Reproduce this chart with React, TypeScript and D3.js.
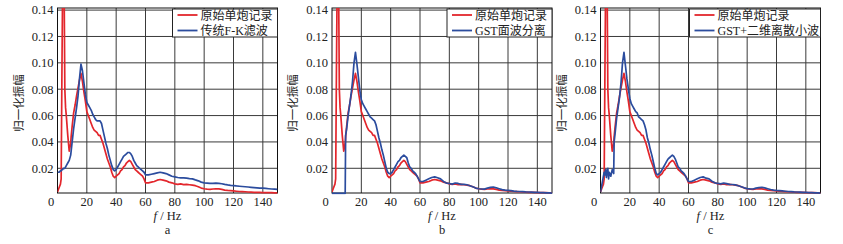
import React from "react";
import * as d3 from "d3";

// shared frequency grid (Hz)
const freqs: number[] = [
  0, 1, 2, 2.5, 3, 3.5, 4, 4.5, 5, 5.5, 6, 7, 8, 9, 9.3,
  10, 11, 12, 13, 14, 15, 16, 17, 18, 19, 20, 21, 22, 23, 24, 25, 26, 27, 28, 29,
  30, 31, 32, 33, 34, 35, 36, 37, 38, 39, 40, 41, 42, 43, 44, 45, 46, 47, 48, 49,
  50, 51, 52, 53, 54, 55, 56, 57, 58, 59, 60,
  62, 64, 66, 68, 70, 72, 74, 76, 78, 80, 82, 84, 86, 88, 90, 92, 94, 96, 98, 100,
  102, 104, 106, 108, 110, 112, 114, 116, 118, 120, 122, 124, 126, 128, 130,
  132, 134, 136, 138, 140, 142, 144, 146, 148, 150,
];

// 原始单炮记录 (raw shot record)
const rawValues: number[] = [
  0.002, 0.005, 0.008, 0.012, 0.09, 0.16, 0.17, 0.16, 0.08, 0.066, 0.06, 0.045, 0.033, 0.039, 0.044,
  0.052, 0.062, 0.068, 0.075, 0.081, 0.087, 0.092, 0.086, 0.078, 0.071, 0.063, 0.06, 0.057, 0.054, 0.051, 0.049, 0.048, 0.047, 0.045, 0.045,
  0.042, 0.039, 0.035, 0.031, 0.027, 0.024, 0.021, 0.017, 0.014, 0.013, 0.014, 0.015, 0.016, 0.018, 0.019, 0.021, 0.022, 0.024, 0.025, 0.026,
  0.025, 0.023, 0.021, 0.019, 0.018, 0.017, 0.016, 0.015, 0.014, 0.012, 0.009,
  0.009, 0.0095, 0.01, 0.011, 0.0115, 0.011, 0.0105, 0.0095, 0.009, 0.0082, 0.0078, 0.0082, 0.0076, 0.0078, 0.0075, 0.0072, 0.0068, 0.006, 0.005, 0.0045,
  0.0042, 0.004, 0.0043, 0.0045, 0.0044, 0.004, 0.0035, 0.0032, 0.003, 0.0028, 0.0026, 0.0024, 0.0023, 0.0022, 0.002,
  0.0019, 0.0018, 0.0018, 0.0017, 0.0016, 0.0016, 0.0015, 0.0015, 0.0014, 0.0014,
];

// 传统F-K滤波
const fkValues: number[] = [
  0.017, 0.017, 0.018, 0.018, 0.019, 0.019, 0.02, 0.02, 0.02, 0.021, 0.022, 0.024, 0.026, 0.03, 0.033,
  0.04, 0.05, 0.058, 0.066, 0.075, 0.088, 0.099, 0.094, 0.085, 0.076, 0.07, 0.068, 0.066, 0.064, 0.061, 0.059, 0.057, 0.056, 0.056, 0.056,
  0.054, 0.049, 0.044, 0.039, 0.035, 0.03, 0.026, 0.022, 0.019, 0.018, 0.019, 0.021, 0.023, 0.025, 0.027, 0.029, 0.03, 0.031, 0.032, 0.032,
  0.031, 0.029, 0.026, 0.024, 0.022, 0.021, 0.02, 0.019, 0.018, 0.017, 0.015,
  0.015, 0.0155, 0.016, 0.0165, 0.017, 0.0165, 0.016, 0.015, 0.014, 0.0135, 0.013, 0.0128, 0.0128, 0.0125, 0.0122, 0.012, 0.0112, 0.0105, 0.0095, 0.009,
  0.0088, 0.0085, 0.0085, 0.0088, 0.0086, 0.0083, 0.0078, 0.0074, 0.0071, 0.0069, 0.0066, 0.0064, 0.0062, 0.006, 0.0058,
  0.0056, 0.0054, 0.0052, 0.005, 0.0049, 0.0047, 0.0045, 0.0043, 0.0042, 0.004,
];

// GST面波分离
const gstValues: number[] = [
  0.001, 0.001, 0.001, 0.001, 0.001, 0.001, 0.001, 0.001, 0.001, 0.001, 0.001, 0.001, 0.001, 0.001, 0.045,
  0.05, 0.06, 0.068, 0.076, 0.086, 0.1, 0.108, 0.099, 0.089, 0.079, 0.072, 0.069, 0.067, 0.065, 0.063, 0.061, 0.059, 0.058, 0.057, 0.056,
  0.053, 0.048, 0.043, 0.039, 0.034, 0.03, 0.025, 0.02, 0.017, 0.016, 0.016, 0.017, 0.019, 0.021, 0.023, 0.025, 0.026, 0.028, 0.029, 0.03,
  0.029, 0.028, 0.024, 0.021, 0.02, 0.018, 0.017, 0.016, 0.014, 0.012, 0.01,
  0.01, 0.011, 0.012, 0.013, 0.0135, 0.0128, 0.012, 0.01, 0.0088, 0.0085, 0.008, 0.0088, 0.0085, 0.0078, 0.0078, 0.0075, 0.0068, 0.006, 0.005, 0.0045,
  0.0043, 0.0042, 0.005, 0.0055, 0.0058, 0.0052, 0.0045, 0.0038, 0.0034, 0.0032, 0.003, 0.0027, 0.0025, 0.0024, 0.0023,
  0.0021, 0.002, 0.0019, 0.0018, 0.0017, 0.0016, 0.0015, 0.0014, 0.0013, 0.0012,
];

// GST+二维离散小波
const gstDwtValues: number[] = [
  0.002, 0.008, 0.014, 0.017, 0.015, 0.019, 0.013, 0.018, 0.02, 0.012, 0.017, 0.014, 0.019, 0.016, 0.04,
  0.047, 0.058, 0.066, 0.074, 0.085, 0.1, 0.108, 0.098, 0.088, 0.08, 0.073, 0.069, 0.067, 0.065, 0.063, 0.062, 0.059, 0.058, 0.057, 0.056,
  0.053, 0.049, 0.043, 0.039, 0.034, 0.03, 0.025, 0.02, 0.016, 0.015, 0.016, 0.017, 0.019, 0.021, 0.023, 0.025, 0.027, 0.028, 0.029, 0.03,
  0.029, 0.027, 0.024, 0.021, 0.02, 0.018, 0.017, 0.016, 0.014, 0.012, 0.01,
  0.01, 0.011, 0.012, 0.013, 0.0135, 0.0125, 0.012, 0.0102, 0.009, 0.0085, 0.0082, 0.0088, 0.0084, 0.0078, 0.0077, 0.0074, 0.0068, 0.006, 0.0052, 0.0046,
  0.0044, 0.0043, 0.005, 0.0054, 0.0056, 0.0051, 0.0045, 0.0039, 0.0035, 0.0032, 0.003, 0.0028, 0.0026, 0.0024, 0.0023,
  0.0021, 0.002, 0.0019, 0.0018, 0.0017, 0.0016, 0.0015, 0.0014, 0.0013, 0.0012,
];

const xTicks: number[] = [0, 20, 40, 60, 80, 100, 120, 140];
const yTicks: number[] = [0.02, 0.04, 0.06, 0.08, 0.1, 0.12, 0.14];
const rawName = "原始单炮记录";
const seriesNames: string[] = ["传统F-K滤波", "GST面波分离", "GST+二维离散小波"];
const panelLetters: string[] = ["a", "b", "c"];
const filteredSeries: number[][] = [fkValues, gstValues, gstDwtValues];

const RED = "#e3262c";
const BLUE = "#2b4c9e";
const SERIF = "'Liberation Serif', 'Times New Roman', serif";
const CJK = "'Liberation Serif', 'Noto Sans CJK SC', serif";

const TOP = 8;
const BOTTOM = 193;
const Y_MIN = 0.00126;
const Y_MAX = 0.1416;

type PanelProps = {
  left: number;
  width: number;
  legendWidth: number;
  values: number[];
  name: string;
  letter: string;
  idx: number;
};

function Panel({ left, width, legendWidth, values, name, letter, idx }: PanelProps) {
  const x = d3.scaleLinear().domain([0, 150]).range([left, left + width]);
  const y = d3.scaleLinear().domain([Y_MIN, Y_MAX]).range([BOTTOM, TOP]);
  const line = d3
    .line<number>()
    .x((_, i) => x(freqs[i]))
    .y((v) => y(v));
  const clipId = `clip-${idx}`;
  const right = left + width;
  const lgX = right - legendWidth;
  const lgY = TOP + 1;
  return (
    <g>
      <defs>
        <clipPath id={clipId}>
          <rect x={left} y={TOP} width={width} height={BOTTOM - TOP + 1.5} />
        </clipPath>
      </defs>
      <rect x={left} y={TOP} width={width} height={BOTTOM - TOP} fill="#fff" />
      {xTicks
        .filter((t) => t > 0)
        .map((t) => (
          <line key={"gx" + t} x1={x(t)} x2={x(t)} y1={TOP} y2={BOTTOM} stroke="#3a3a3a" strokeWidth={1} />
        ))}
      {yTicks.map((t) => (
        <line key={"gy" + t} x1={left} x2={right} y1={y(t)} y2={y(t)} stroke="#3a3a3a" strokeWidth={1} />
      ))}
      <rect x={left} y={TOP} width={width} height={BOTTOM - TOP} fill="none" stroke="#111" strokeWidth={1} />
      <g clipPath={`url(#${clipId})`}>
        <path d={line(rawValues) || ""} fill="none" stroke={RED} strokeWidth={1.7} strokeLinejoin="round" />
        <path d={line(values) || ""} fill="none" stroke={BLUE} strokeWidth={1.7} strokeLinejoin="round" />
      </g>
      {xTicks.map((t) => (
        <text
          key={"tx" + t}
          x={x(t) + (t === 0 ? -6.5 : 0)}
          y={206}
          textAnchor="middle"
          fontFamily={SERIF}
          fontSize={12.5}
          fill="#222"
        >
          {t}
        </text>
      ))}
      {yTicks.map((t) => (
        <text
          key={"ty" + t}
          x={left - 4}
          y={y(t) + 4.3}
          textAnchor="end"
          fontFamily={SERIF}
          fontSize={12.5}
          fill="#222"
        >
          {t.toFixed(2)}
        </text>
      ))}
      <text
        transform={`translate(${left - 35},${103}) rotate(-90)`}
        textAnchor="middle"
        fontFamily={CJK}
        fontSize={11.5}
        fill="#222"
      >
        归一化振幅
      </text>
      <text x={left + width / 2} y={219.5} textAnchor="middle" fontFamily={SERIF} fontSize={12.5} fill="#222">
        <tspan fontStyle="italic">f</tspan>
        <tspan> / Hz</tspan>
      </text>
      <text x={left + width / 2} y={234} textAnchor="middle" fontFamily={SERIF} fontSize={12.5} fill="#222">
        {letter}
      </text>
      <g>
        <rect x={lgX} y={lgY} width={legendWidth} height={28} fill="#fff" stroke="#222" strokeWidth={1} />
        <line x1={lgX + 5} x2={lgX + 25} y1={lgY + 6} y2={lgY + 6} stroke={RED} strokeWidth={1.8} />
        <line x1={lgX + 5} x2={lgX + 25} y1={lgY + 21.5} y2={lgY + 21.5} stroke={BLUE} strokeWidth={1.8} />
        <text x={lgX + 28} y={lgY + 10.5} fontFamily={CJK} fontSize={12} fill="#222">
          {rawName}
        </text>
        <text x={lgX + 28} y={lgY + 26} fontFamily={CJK} fontSize={12} fill="#222">
          {name}
        </text>
      </g>
    </g>
  );
}

export default function App() {
  const lefts = [57.5, 332, 600.5];
  const legendWidths = [105, 105, 131];
  return (
    <svg
      width={843}
      height={244}
      style={{ position: "absolute", left: 0, top: 0, background: "#fff" }}
    >
      <rect x={0} y={0} width={843} height={244} fill="#fff" />
      {lefts.map((l, i) => (
        <Panel
          key={i}
          idx={i}
          left={l}
          width={220}
          legendWidth={legendWidths[i]}
          values={filteredSeries[i]}
          name={seriesNames[i]}
          letter={panelLetters[i]}
        />
      ))}
    </svg>
  );
}
